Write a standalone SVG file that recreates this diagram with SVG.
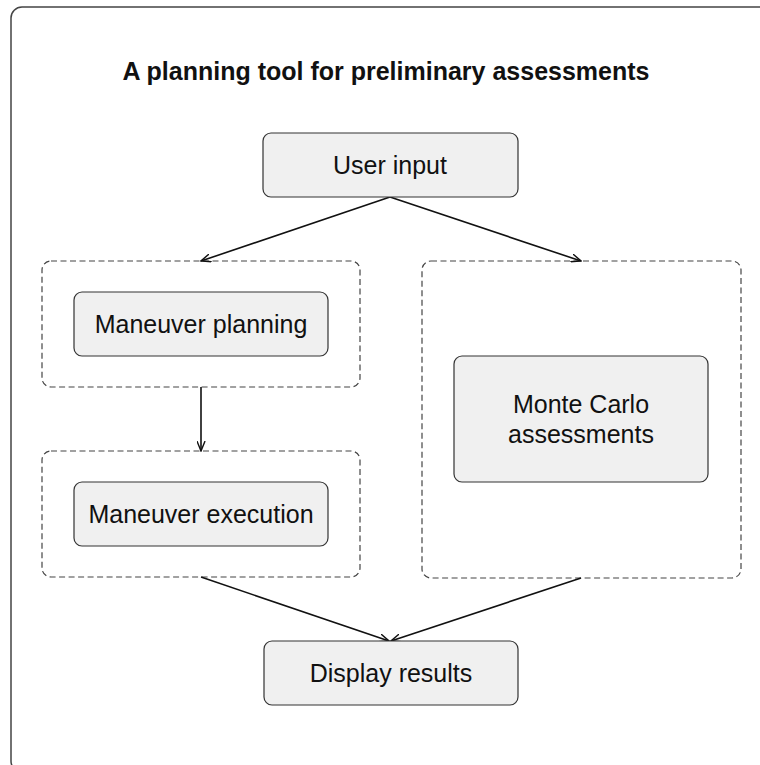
<svg xmlns="http://www.w3.org/2000/svg" width="760" height="765" viewBox="0 0 760 765">
<defs>
<style>
.node rect{fill:#f0f0f0;stroke:#333;stroke-width:1.2}
.grp{fill:none;stroke:#444;stroke-width:1.2;stroke-dasharray:6 3.5}
text{font-family:"Liberation Sans",Arial,sans-serif;font-size:25px;fill:#111;text-anchor:middle}
.title{font-weight:bold;font-size:25px}
.conn line{stroke:#111;stroke-width:1.6;marker-end:url(#ah)}
</style>
<marker id="ah" viewBox="0 0 12 10" refX="11" refY="5" markerWidth="11" markerHeight="9" markerUnits="userSpaceOnUse" orient="auto">
<path d="M0,0.5 L11,5 L0,9.5" fill="none" stroke="#111" stroke-width="1.6"/>
</marker>
</defs>
<rect width="760" height="765" fill="#fff"/>
<rect x="11" y="7" width="775" height="765" rx="11" fill="none" stroke="#444" stroke-width="1.5"/>
<text id="title" class="title" x="386" y="80">A planning tool for preliminary assessments</text>
<g id="groups">
<rect id="grp-planning" class="grp" x="42" y="261" width="318" height="126" rx="9"/>
<rect id="grp-execution" class="grp" x="42" y="451" width="318" height="126" rx="9"/>
<rect id="grp-montecarlo" class="grp" x="422" y="261" width="319" height="317" rx="9"/>
</g>
<g id="connectors" class="conn">
<line x1="390" y1="197" x2="201" y2="261"/>
<line x1="390" y1="197" x2="581" y2="261"/>
<line x1="201" y1="387" x2="201" y2="451"/>
<line x1="201" y1="577" x2="389" y2="641"/>
<line x1="581" y1="578" x2="391" y2="641"/>
</g>
<g id="user-input" class="node">
<rect x="263" y="133" width="255" height="64" rx="8"/>
<text x="390" y="174">User input</text>
</g>
<g id="maneuver-planning" class="node">
<rect x="74" y="292" width="254" height="64" rx="8"/>
<text x="201" y="333">Maneuver planning</text>
</g>
<g id="maneuver-execution" class="node">
<rect x="74" y="482" width="254" height="64" rx="8"/>
<text x="201" y="523">Maneuver execution</text>
</g>
<g id="monte-carlo" class="node">
<rect x="454" y="356" width="254" height="126" rx="8"/>
<text x="581" y="413">Monte Carlo</text>
<text x="581" y="443">assessments</text>
</g>
<g id="display-results" class="node">
<rect x="264" y="641" width="254" height="64" rx="8"/>
<text x="391" y="682">Display results</text>
</g>
</svg>
